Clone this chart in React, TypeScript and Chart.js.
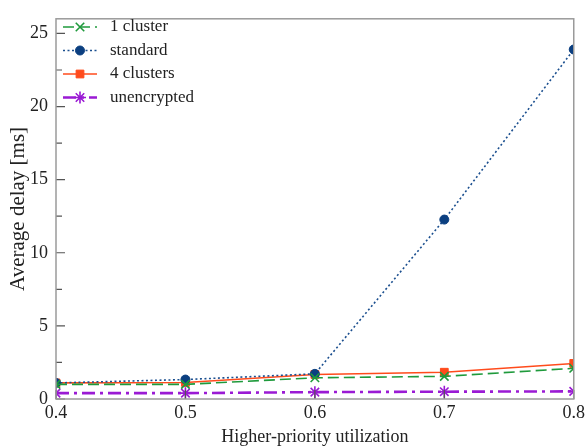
import React, { useEffect, useRef } from "react";
import { Chart, registerables } from "chart.js";
import { drawPoint } from "chart.js/helpers";

Chart.register(...registerables);

const utilization = [0.4, 0.5, 0.6, 0.7, 0.8];
const oneCluster = [1.0, 1.0, 1.45, 1.55, 2.1];
const standard = [1.1, 1.33, 1.72, 12.27, 23.9];
const fourClusters = [1.1, 1.13, 1.68, 1.83, 2.43];
const unencrypted = [0.4, 0.4, 0.47, 0.5, 0.52];

const xTickValues = [0.4, 0.5, 0.6, 0.7, 0.8];

const FONT = "'Liberation Serif', 'Times New Roman', serif";

const framePlugin = {
  id: "frameAndTicks",
  afterDraw(chart: any) {
    const { ctx, chartArea } = chart;
    const { left, right, top, bottom } = chartArea;
    const xs = chart.scales.x;
    const ys = chart.scales.y;
    ctx.save();
    // inward ticks
    ctx.strokeStyle = "#555";
    ctx.lineWidth = 1.2;
    ctx.beginPath();
    ys.ticks.forEach((t: any) => {
      const y = ys.getPixelForValue(t.value);
      const major = Math.abs(t.value % 5) < 1e-6;
      const len = major ? 9 : 6;
      ctx.moveTo(left, y);
      ctx.lineTo(left + len, y);
    });
    xs.ticks.forEach((t: any) => {
      const x = xs.getPixelForValue(t.value);
      ctx.moveTo(x, bottom);
      ctx.lineTo(x, bottom - 9);
    });
    ctx.stroke();
    // frame
    ctx.strokeStyle = "#9a9a9a";
    ctx.lineWidth = 1.5;
    ctx.strokeRect(left, top, right - left, bottom - top);

    // legend
    const x0 = 63;
    const x1 = 97;
    const xm = 80;
    const rowY = [27, 50.5, 74, 97.5];
    chart.data.datasets.forEach((ds: any, i: number) => {
      const y = rowY[i];
      ctx.save();
      ctx.strokeStyle = ds.borderColor;
      ctx.lineWidth = ds.borderWidth;
      ctx.setLineDash(ds.borderDash || []);
      ctx.beginPath();
      ctx.moveTo(x0, y);
      ctx.lineTo(x1, y);
      ctx.stroke();
      ctx.setLineDash([]);
      ctx.fillStyle = ds.pointBackgroundColor;
      ctx.strokeStyle = ds.pointBorderColor;
      ctx.lineWidth = ds.pointBorderWidth;
      drawPoint(
        ctx,
        { pointStyle: ds.pointStyle, radius: ds.pointRadius, rotation: 0, borderWidth: ds.pointBorderWidth },
        xm,
        y
      );
      ctx.restore();
      ctx.fillStyle = "#222";
      ctx.font = `17px ${FONT}`;
      ctx.textBaseline = "middle";
      ctx.textAlign = "left";
      ctx.fillText(ds.label, 110, y);
    });
    ctx.restore();
  },
};

export default function App() {
  const ref = useRef<HTMLCanvasElement | null>(null);
  useEffect(() => {
    document.body.style.margin = "0";
    const canvas = ref.current!;
    const chart = new Chart(canvas, {
      type: "line",
      data: {
        labels: utilization,
        datasets: [
          {
            label: "1 cluster",
            data: utilization.map((x, i) => ({ x, y: oneCluster[i] })),
            borderColor: "#1f9a3c",
            borderWidth: 1.6,
            borderDash: [11, 5],
            pointStyle: "crossRot",
            pointRadius: 6,
            pointBorderWidth: 1.6,
            pointBorderColor: "#1f9a3c",
            pointBackgroundColor: "#1f9a3c",
          },
          {
            label: "standard",
            data: utilization.map((x, i) => ({ x, y: standard[i] })),
            borderColor: "#1b4f8f",
            borderWidth: 1.6,
            borderDash: [2, 2.5],
            pointStyle: "circle",
            pointRadius: 4.5,
            pointBorderWidth: 1,
            pointBorderColor: "#0b3f80",
            pointBackgroundColor: "#0b3f80",
          },
          {
            label: "4 clusters",
            data: utilization.map((x, i) => ({ x, y: fourClusters[i] })),
            borderColor: "#ff4b1c",
            borderWidth: 1.6,
            borderDash: [],
            pointStyle: "rect",
            pointRadius: 5.5,
            pointBorderWidth: 1,
            pointBorderColor: "#ff4b1c",
            pointBackgroundColor: "#ff4b1c",
          },
          {
            label: "unencrypted",
            data: utilization.map((x, i) => ({ x, y: unencrypted[i] })),
            borderColor: "#9a1ad4",
            borderWidth: 2.6,
            borderDash: [13, 5, 3, 5],
            pointStyle: "star",
            pointRadius: 6,
            pointBorderWidth: 1.6,
            pointBorderColor: "#9a1ad4",
            pointBackgroundColor: "#9a1ad4",
          },
        ],
      },
      options: {
        animation: false,
        responsive: false,
        maintainAspectRatio: false,
        layout: { padding: { left: 0, top: 10, right: 12, bottom: 0 } },
        plugins: {
          legend: { display: false },
          tooltip: { enabled: false },
        },
        elements: { line: { tension: 0 } },
        scales: {
          x: {
            type: "linear",
            min: 0.4,
            max: 0.8,
            afterFit(scale: any) {
              scale.height = 49;
            },
            afterBuildTicks(scale: any) {
              scale.ticks = xTickValues.map((v) => ({ value: v }));
            },
            grid: { display: false, drawTicks: false },
            border: { display: false },
            ticks: {
              padding: 3,
              color: "#222",
              font: { family: FONT, size: 18 },
              callback: (v: any) => Number(v).toFixed(1),
              maxRotation: 0,
              autoSkip: false,
            },
            title: {
              display: true,
              text: "Higher-priority utilization",
              color: "#222",
              font: { family: FONT, size: 18 },
              padding: { top: 0, bottom: 0 },
            },
          },
          y: {
            type: "linear",
            min: 0,
            max: 26,
            afterFit(scale: any) {
              scale.width = 56;
            },
            grid: { display: false, drawTicks: false },
            border: { display: false },
            ticks: {
              stepSize: 2.5,
              includeBounds: false,
              padding: 8,
              color: "#222",
              font: { family: FONT, size: 18 },
              callback: (v: any) => (Math.abs(Number(v) % 5) < 1e-6 ? String(v) : ""),
              autoSkip: false,
            },
            title: {
              display: true,
              text: "Average delay [ms]",
              color: "#222",
              font: { family: FONT, size: 21 },
              padding: { top: 6, bottom: 0 },
            },
          },
        },
      },
      plugins: [framePlugin],
    } as any);
    return () => chart.destroy();
  }, []);
  return (
    <div style={{ width: 588, height: 448 }}>
      <canvas ref={ref} width={588} height={448} style={{ display: "block" }} />
    </div>
  );
}
